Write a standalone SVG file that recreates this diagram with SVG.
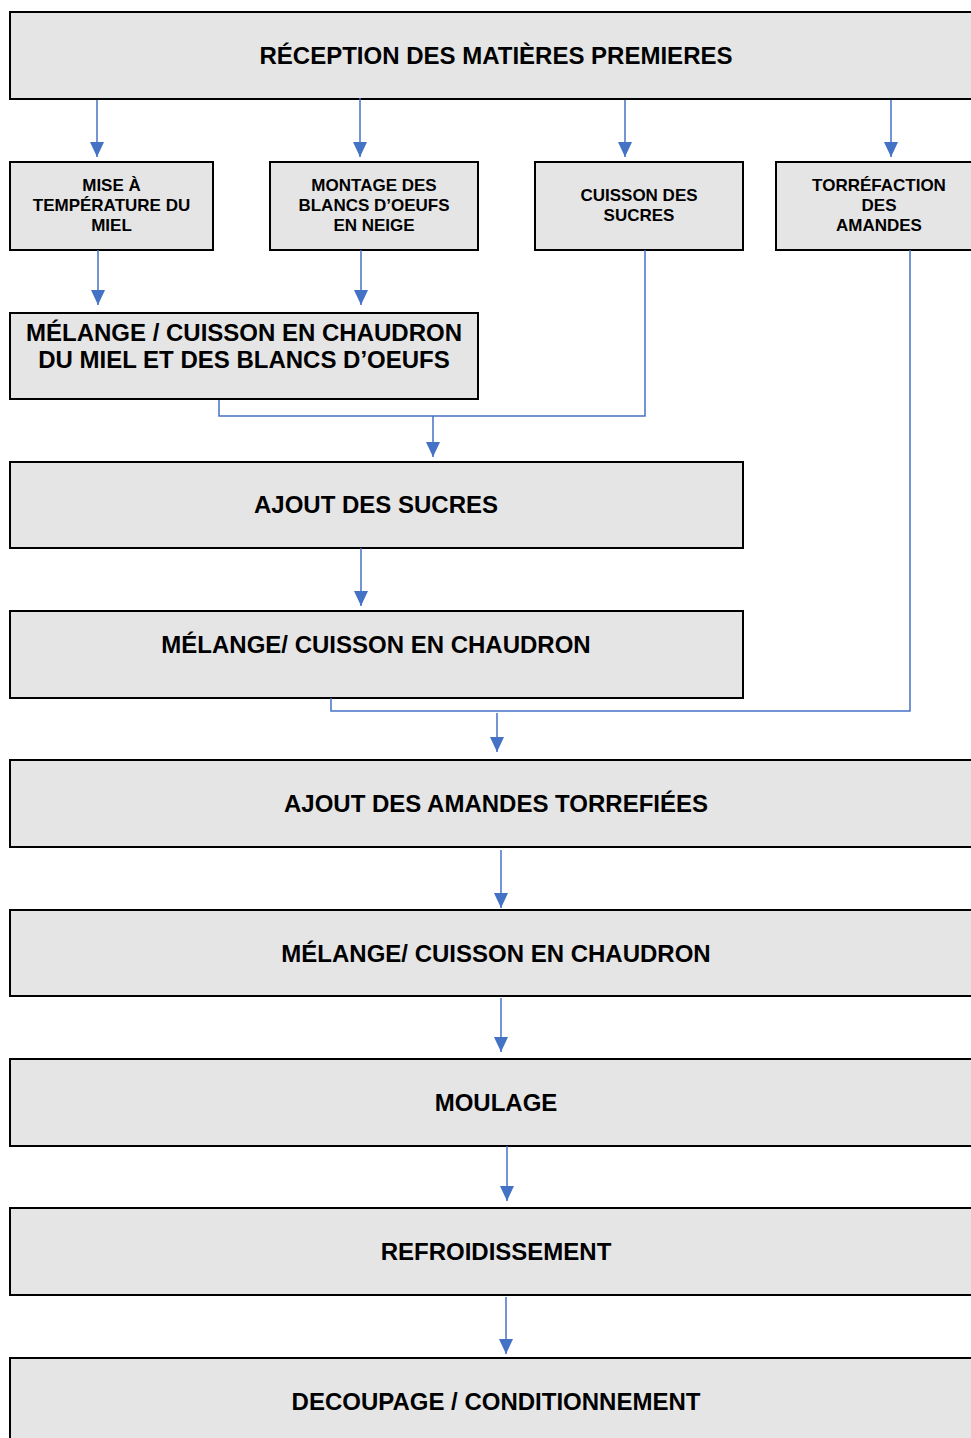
<svg xmlns="http://www.w3.org/2000/svg" width="971" height="1438" viewBox="0 0 971 1438">
<style>
.box{fill:#e5e5e5;stroke:#000;stroke-width:2}
.t{font-family:"Liberation Sans",Arial,sans-serif;font-weight:bold;fill:#000;text-anchor:middle}
.big{font-size:24px}
.sm{font-size:17px}
.c{fill:none;stroke:#4472C4;stroke-width:1.5}
.a{fill:none;stroke:#4472C4;stroke-width:1.5;marker-end:url(#ah)}
</style>
<defs>
<marker id="ah" markerUnits="userSpaceOnUse" markerWidth="14" markerHeight="15" viewBox="0 0 14 15" refX="7" refY="15">
<path d="M0,0 L14,0 L7,15 z" fill="#4472C4"/>
</marker>
</defs>
<rect width="971" height="1438" fill="#fff"/>
<g id="n1"><rect class="box" x="10" y="12" width="980" height="87"/><text class="t big" x="496" y="64">RÉCEPTION DES MATIÈRES PREMIERES</text></g>
<g id="n2"><rect class="box" x="10" y="162" width="203" height="88"/><text class="t sm"><tspan x="111.5" y="191">MISE À</tspan><tspan x="111.5" y="211">TEMPÉRATURE DU</tspan><tspan x="111.5" y="231">MIEL</tspan></text></g>
<g id="n3"><rect class="box" x="270" y="162" width="208" height="88"/><text class="t sm"><tspan x="374" y="191">MONTAGE DES</tspan><tspan x="374" y="211">BLANCS D’OEUFS</tspan><tspan x="374" y="231">EN NEIGE</tspan></text></g>
<g id="n4"><rect class="box" x="535" y="162" width="208" height="88"/><text class="t sm"><tspan x="639" y="201">CUISSON DES</tspan><tspan x="639" y="221">SUCRES</tspan></text></g>
<g id="n5"><rect class="box" x="776" y="162" width="220" height="88"/><text class="t sm"><tspan x="879" y="191">TORRÉFACTION</tspan><tspan x="879" y="211">DES</tspan><tspan x="879" y="231">AMANDES</tspan></text></g>
<g id="n6"><rect class="box" x="10" y="313" width="468" height="86"/><text class="t big"><tspan x="244" y="341">MÉLANGE / CUISSON EN CHAUDRON</tspan><tspan x="244" y="368">DU MIEL ET DES BLANCS D’OEUFS</tspan></text></g>
<g id="n7"><rect class="box" x="10" y="462" width="733" height="86"/><text class="t big" x="376" y="513">AJOUT DES SUCRES</text></g>
<g id="n8"><rect class="box" x="10" y="611" width="733" height="87"/><text class="t big" x="376" y="653">MÉLANGE/ CUISSON EN CHAUDRON</text></g>
<g id="n9"><rect class="box" x="10" y="760" width="980" height="87"/><text class="t big" x="496" y="812">AJOUT DES AMANDES TORREFIÉES</text></g>
<g id="n10"><rect class="box" x="10" y="910" width="980" height="86"/><text class="t big" x="496" y="962">MÉLANGE/ CUISSON EN CHAUDRON</text></g>
<g id="n11"><rect class="box" x="10" y="1059" width="980" height="87"/><text class="t big" x="496" y="1111">MOULAGE</text></g>
<g id="n12"><rect class="box" x="10" y="1208" width="980" height="87"/><text class="t big" x="496" y="1260">REFROIDISSEMENT</text></g>
<g id="n13"><rect class="box" x="10" y="1358" width="980" height="100"/><text class="t big" x="496" y="1410">DECOUPAGE / CONDITIONNEMENT</text></g>
<g id="connectors">
<line class="a" x1="97" y1="100" x2="97" y2="157"/>
<line class="a" x1="360" y1="98" x2="360" y2="157"/>
<line class="a" x1="625" y1="100" x2="625" y2="157"/>
<line class="a" x1="891" y1="100" x2="891" y2="157"/>
<line class="a" x1="98" y1="250" x2="98" y2="305"/>
<line class="a" x1="361" y1="250" x2="361" y2="305"/>
<path class="c" d="M219,400 V416 H645 V250"/>
<line class="a" x1="433" y1="416" x2="433" y2="457"/>
<line class="a" x1="361" y1="548" x2="361" y2="606"/>
<path class="c" d="M331,698 V711 H910 V250"/>
<line class="a" x1="497" y1="713" x2="497" y2="752"/>
<line class="a" x1="501" y1="850" x2="501" y2="908"/>
<line class="a" x1="501" y1="998" x2="501" y2="1052"/>
<line class="a" x1="507" y1="1146" x2="507" y2="1201"/>
<line class="a" x1="506" y1="1297" x2="506" y2="1354"/>
</g>
</svg>
